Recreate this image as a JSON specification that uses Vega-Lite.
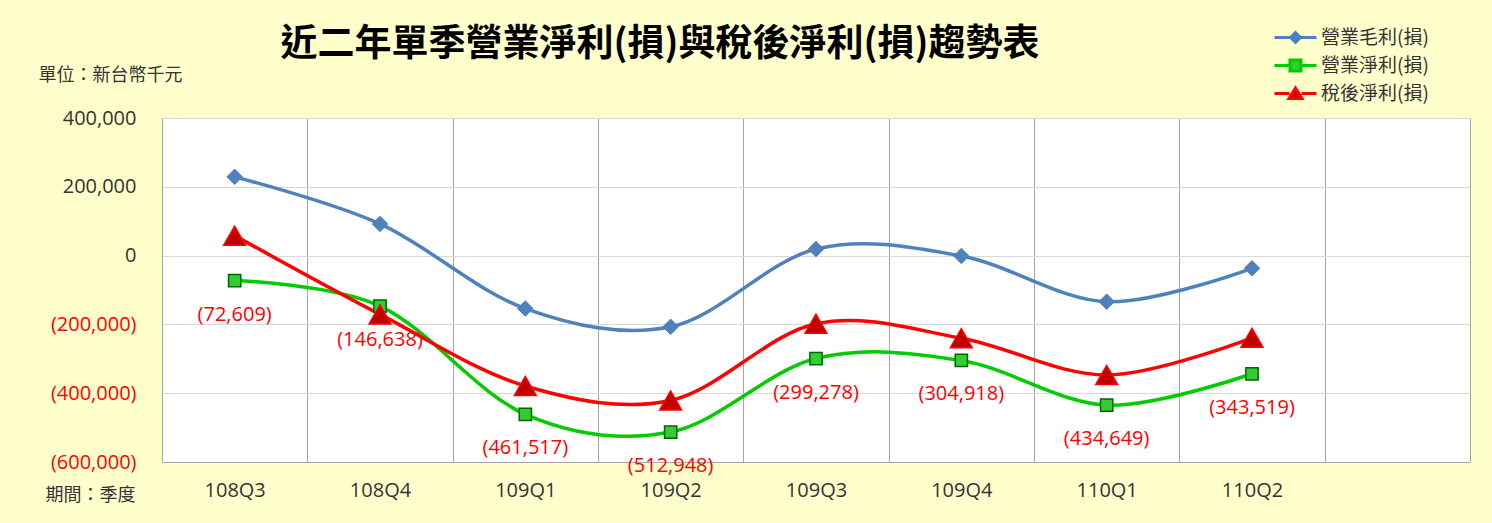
{
  "$schema": "https://vega.github.io/schema/vega-lite/v6.json",
  "width": 1308,
  "height": 344,
  "autosize": {"type": "none"},
  "padding": {"left": 162, "top": 118, "right": 22, "bottom": 61},
  "background": "#FFFFCC",
  "title": {
    "text": "近二年單季營業淨利(損)與稅後淨利(損)趨勢表",
    "font": "Noto Sans CJK TC",
    "fontSize": 37,
    "fontWeight": "bold",
    "color": "#000000",
    "anchor": "middle",
    "dx": -156,
    "offset": -38
  },
  "config": {
    "view": {"fill": "white", "stroke": "#BFBFBF"}
  },
  "data": {
    "values": [
      {"q": "108Q3", "series": "營業毛利(損)", "value": 229000},
      {"q": "108Q4", "series": "營業毛利(損)", "value": 92000},
      {"q": "109Q1", "series": "營業毛利(損)", "value": -154000},
      {"q": "109Q2", "series": "營業毛利(損)", "value": -207000},
      {"q": "109Q3", "series": "營業毛利(損)", "value": 19000},
      {"q": "109Q4", "series": "營業毛利(損)", "value": -1000},
      {"q": "110Q1", "series": "營業毛利(損)", "value": -134000},
      {"q": "110Q2", "series": "營業毛利(損)", "value": -37000},
      {"q": "108Q3", "series": "營業淨利(損)", "value": -72609},
      {"q": "108Q4", "series": "營業淨利(損)", "value": -146638},
      {"q": "109Q1", "series": "營業淨利(損)", "value": -461517},
      {"q": "109Q2", "series": "營業淨利(損)", "value": -512948},
      {"q": "109Q3", "series": "營業淨利(損)", "value": -299278},
      {"q": "109Q4", "series": "營業淨利(損)", "value": -304918},
      {"q": "110Q1", "series": "營業淨利(損)", "value": -434649},
      {"q": "110Q2", "series": "營業淨利(損)", "value": -343519},
      {"q": "108Q3", "series": "稅後淨利(損)", "value": 58000},
      {"q": "108Q4", "series": "稅後淨利(損)", "value": -171000},
      {"q": "109Q1", "series": "稅後淨利(損)", "value": -379000},
      {"q": "109Q2", "series": "稅後淨利(損)", "value": -421000},
      {"q": "109Q3", "series": "稅後淨利(損)", "value": -198000},
      {"q": "109Q4", "series": "稅後淨利(損)", "value": -240000},
      {"q": "110Q1", "series": "稅後淨利(損)", "value": -347000},
      {"q": "110Q2", "series": "稅後淨利(損)", "value": -239000}
    ]
  },
  "encoding": {
    "x": {
      "field": "q",
      "type": "nominal",
      "bandPosition": 0.5,
      "scale": {
        "type": "band",
        "domain": ["108Q3", "108Q4", "109Q1", "109Q2", "109Q3", "109Q4", "110Q1", "110Q2", " "],
        "paddingInner": 0,
        "paddingOuter": 0
      },
      "axis": {
        "title": "期間：季度",
        "titleX": -117,
        "titleY": 33,
        "titleAlign": "left",
        "titleBaseline": "middle",
        "titleAngle": 0,
        "titleFont": "Noto Sans CJK TC",
        "titleFontSize": 18,
        "titleFontWeight": "normal",
        "titleColor": "#333333",
        "labelAngle": 0,
        "labelFont": "Open Sans",
        "labelFontSize": 20,
        "labelColor": "#333333",
        "labelPadding": 18,
        "ticks": false,
        "tickBand": "extent",
        "grid": true,
        "gridColor": "#A6A6A6",
        "gridWidth": 1,
        "domainColor": "#A6A6A6"
      }
    },
    "y": {
      "field": "value",
      "type": "quantitative",
      "scale": {"domain": [-600000, 400000], "nice": false, "zero": false},
      "axis": {
        "values": [-600000, -400000, -200000, 0, 200000, 400000],
        "format": "(,.0f",
        "labelColor": {"condition": {"test": "datum.value < 0", "value": "#FF0000"}, "value": "#333333"},
        "labelFont": "Open Sans",
        "labelFontSize": 20,
        "labelPadding": 26,
        "ticks": false,
        "domain": true,
        "domainColor": "#A6A6A6",
        "gridColor": "#D9D9D9",
        "title": "單位：新台幣千元",
        "titleAngle": 0,
        "titleX": -124,
        "titleY": -43,
        "titleAlign": "left",
        "titleBaseline": "middle",
        "titleFont": "Noto Sans CJK TC",
        "titleFontSize": 18,
        "titleFontWeight": "normal",
        "titleColor": "#333333"
      }
    }
  },
  "layer": [
    {
      "mark": {"type": "line", "interpolate": "cardinal", "strokeWidth": 3.5},
      "encoding": {
        "color": {
          "field": "series",
          "type": "nominal",
          "scale": {
            "domain": ["營業毛利(損)", "營業淨利(損)", "稅後淨利(損)"],
            "range": ["#4F81BD", "#00CC00", "#FF0000"]
          },
          "legend": {
            "title": null,
            "orient": "none",
            "legendX": 1122,
            "legendY": -92,
            "direction": "vertical",
            "padding": 0,
            "labelFont": "Noto Sans CJK TC",
            "labelFontSize": 19,
            "labelColor": "#333333",
            "symbolSize": 400,
            "symbolStrokeWidth": 3,
            "labelOffset": 14,
            "rowPadding": 5,
            "encode": {
              "symbols": {
                "update": {
                  "shape": {"signal": "datum.value === '營業毛利(損)' ? 'M-2.1,0H-0.5M0.5,0H2.1M0,-0.5L0.5,0L0,0.5L-0.5,0Z' : datum.value === '營業淨利(損)' ? 'M-2.1,0H-0.55M0.55,0H2.1M-0.55,-0.55H0.55V0.55H-0.55Z' : 'M-2.1,0H-0.6M0.6,0H2.1M0,-0.55L0.65,0.5H-0.65Z'"},
                  "fill": {"signal": "datum.value === '營業毛利(損)' ? '#4F81BD' : datum.value === '營業淨利(損)' ? '#33CC33' : '#C00000'"},
                  "stroke": {"signal": "datum.value === '營業毛利(損)' ? '#4F81BD' : datum.value === '營業淨利(損)' ? '#00CC00' : '#FF0000'"},
                  "opacity": {"value": 1}
                }
              }
            }
          }
        }
      }
    },
    {
      "transform": [{"filter": "datum.series === '營業毛利(損)'"}],
      "mark": {"type": "point", "shape": "diamond", "size": 240, "filled": true, "fill": "#4F81BD", "stroke": "#4F81BD", "strokeWidth": 1, "opacity": 1}
    },
    {
      "transform": [{"filter": "datum.series === '營業淨利(損)'"}],
      "mark": {"type": "point", "shape": "square", "size": 150, "filled": true, "fill": "#33CC33", "stroke": "#006600", "strokeWidth": 1.5, "opacity": 1}
    },
    {
      "transform": [{"filter": "datum.series === '稅後淨利(損)'"}],
      "mark": {"type": "point", "shape": "triangle-up", "size": 480, "filled": true, "fill": "#C00000", "stroke": "#FF0000", "strokeWidth": 1.5, "opacity": 1}
    },
    {
      "transform": [{"filter": "datum.series === '營業淨利(損)'"}],
      "mark": {"type": "text", "font": "Open Sans", "fontSize": 20, "color": "#FF0000", "dy": 34},
      "encoding": {
        "text": {"field": "value", "type": "quantitative", "format": "(,.0f"}
      }
    }
  ]
}
